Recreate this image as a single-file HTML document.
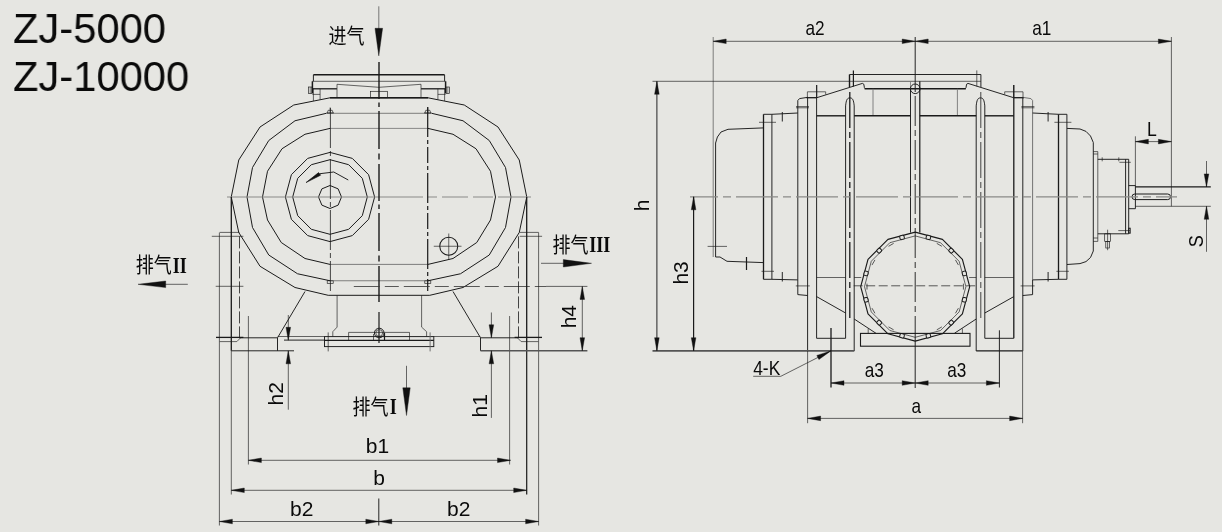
<!DOCTYPE html>
<html lang="zh">
<head>
<meta charset="utf-8">
<title>ZJ-5000 / ZJ-10000</title>
<style>
html,body{margin:0;padding:0;background:#e6e6e2;}
body{width:1222px;height:532px;overflow:hidden;position:relative;font-family:"Liberation Sans","Noto Sans CJK SC",sans-serif;}
.title{position:absolute;left:12.7px;top:4.0px;font-size:42.6px;line-height:48.1px;transform:scaleX(0.979);transform-origin:0 0;color:#0a0a0a;white-space:pre;will-change:transform;}
svg{position:absolute;left:0;top:0;}
</style>
</head>
<body>
<div class="title">ZJ-5000
ZJ-10000</div>
<svg width="1222" height="532" viewBox="0 0 1222 532" stroke-linecap="butt">
<g id="left-view">
<polygon points="330,97.8 293.75,105 260,127 238.75,160 231.25,197 238.75,232.5 260,266.25 295,287.5 328.2,295.3 429.8,295.3 463.0,287.5 498.0,266.25 519.25,232.5 526.75,197 519.25,160 498.0,127 464.25,105 428.0,97.8" fill="none" stroke="#1a1a1a" stroke-width="1.0" stroke-linejoin="round"/>
<polyline points="326.3,113.3 295,120.75 268.75,140.5 252.5,167.5 247,197 252.5,227.5 268.75,255 297.5,273.75 330,280.75" fill="none" stroke="#1a1a1a" stroke-width="1.0" stroke-linejoin="round"/>
<polyline points="431.7,113.3 463.0,120.75 489.25,140.5 505.5,167.5 511.0,197 505.5,227.5 489.25,255 460.5,273.75 428.0,280.75" fill="none" stroke="#1a1a1a" stroke-width="1.0" stroke-linejoin="round"/>
<polyline points="330,128.4 305,134.25 282,148.75 267.5,171.25 262.5,197 267.5,220 281.25,242.5 305,258.5 330,264.4" fill="none" stroke="#1a1a1a" stroke-width="1.0" stroke-linejoin="round"/>
<polyline points="428.0,128.4 453.0,134.25 476.0,148.75 490.5,171.25 495.5,197 490.5,220 476.75,242.5 453.0,258.5 428.0,264.4" fill="none" stroke="#1a1a1a" stroke-width="1.0" stroke-linejoin="round"/>
<polygon points="330.0,152.4 352.3,158.38 368.62,174.7 374.6,197.0 368.62,219.3 352.3,235.62 330.0,241.6 307.7,235.62 291.38,219.3 285.4,197.0 291.38,174.7 307.7,158.38" fill="none" stroke="#1a1a1a" stroke-width="1.0" stroke-linejoin="round"/>
<polygon points="330.0,159.7 348.65,164.7 362.3,178.35 367.3,197.0 362.3,215.65 348.65,229.3 330.0,234.3 311.35,229.3 297.7,215.65 292.7,197.0 297.7,178.35 311.35,164.7" fill="none" stroke="#1a1a1a" stroke-width="1.0" stroke-linejoin="round"/>
<polygon points="330.0,185.5 338.13,188.87 341.5,197.0 338.13,205.13 330.0,208.5 321.87,205.13 318.5,197.0 321.87,188.87" fill="none" stroke="#1a1a1a" stroke-width="1.0" stroke-linejoin="round"/>
<polyline points="348.25,180 333.75,172 319.5,173.75" fill="none" stroke="#1a1a1a" stroke-width="0.95" stroke-linejoin="round"/>
<polygon points="306,182.6 318.6,172.6 320.6,175.2" fill="#111" stroke="#111" stroke-width="0.6"/>
<circle cx="448.75" cy="246.25" r="9" fill="none" stroke="#1a1a1a" stroke-width="1.05"/>
<line x1="433.75" y1="246.25" x2="461.5" y2="246.25" stroke="#1a1a1a" stroke-width="0.65"/>
<line x1="448.75" y1="233.5" x2="448.75" y2="260" stroke="#1a1a1a" stroke-width="0.65"/>
<line x1="326.7" y1="113" x2="333.7" y2="113" stroke="#1a1a1a" stroke-width="0.95"/>
<polyline points="327.2,113 328.2,110.3 332.2,110.3 333.2,113" fill="none" stroke="#1a1a1a" stroke-width="0.65" stroke-linejoin="round"/>
<line x1="330.2" y1="107.4" x2="330.2" y2="113" stroke="#1a1a1a" stroke-width="0.65"/>
<line x1="424.3" y1="113" x2="431.3" y2="113" stroke="#1a1a1a" stroke-width="0.95"/>
<polyline points="424.8,113 425.8,110.3 429.8,110.3 430.8,113" fill="none" stroke="#1a1a1a" stroke-width="0.65" stroke-linejoin="round"/>
<line x1="427.8" y1="107.4" x2="427.8" y2="113" stroke="#1a1a1a" stroke-width="0.65"/>
<rect x="327.2" y="280.8" width="6.0" height="2.5" fill="none" stroke="#1a1a1a" stroke-width="0.65"/>
<rect x="424.8" y="280.8" width="6.0" height="2.5" fill="none" stroke="#1a1a1a" stroke-width="0.65"/>
<line x1="313.4" y1="74.8" x2="444.6" y2="74.8" stroke="#1a1a1a" stroke-width="1.5"/>
<line x1="313.4" y1="74.8" x2="313.4" y2="81.3" stroke="#1a1a1a" stroke-width="0.95"/>
<line x1="444.6" y1="74.8" x2="444.6" y2="81.3" stroke="#1a1a1a" stroke-width="0.95"/>
<line x1="312.4" y1="81.3" x2="445.6" y2="81.3" stroke="#1a1a1a" stroke-width="0.65"/>
<line x1="312.4" y1="81.3" x2="312.4" y2="93.4" stroke="#1a1a1a" stroke-width="1.5"/>
<line x1="445.6" y1="81.3" x2="445.6" y2="93.4" stroke="#1a1a1a" stroke-width="1.5"/>
<rect x="308.5" y="87" width="3.4" height="6.4" fill="none" stroke="#1a1a1a" stroke-width="0.65"/>
<rect x="446.1" y="87" width="3.4" height="6.4" fill="none" stroke="#1a1a1a" stroke-width="0.65"/>
<line x1="310.2" y1="87" x2="310.2" y2="93.4" stroke="#1a1a1a" stroke-width="0.5"/>
<line x1="447.8" y1="87" x2="447.8" y2="93.4" stroke="#1a1a1a" stroke-width="0.5"/>
<line x1="312.4" y1="88.8" x2="336.9" y2="88.8" stroke="#1a1a1a" stroke-width="1.3"/>
<line x1="421.1" y1="88.8" x2="445.6" y2="88.8" stroke="#1a1a1a" stroke-width="1.3"/>
<line x1="313.4" y1="88.8" x2="313.4" y2="101" stroke="#1a1a1a" stroke-width="0.65"/>
<line x1="320.1" y1="88.8" x2="320.1" y2="99.6" stroke="#1a1a1a" stroke-width="0.65"/>
<line x1="312.4" y1="94.4" x2="320.1" y2="94.4" stroke="#1a1a1a" stroke-width="0.65"/>
<line x1="444.6" y1="88.8" x2="444.6" y2="101" stroke="#1a1a1a" stroke-width="0.65"/>
<line x1="437.9" y1="88.8" x2="437.9" y2="99.6" stroke="#1a1a1a" stroke-width="0.65"/>
<line x1="437.9" y1="94.4" x2="445.6" y2="94.4" stroke="#1a1a1a" stroke-width="0.65"/>
<polyline points="337,97.8 337,84.3 379,87.3 421,84.3 421,97.8" fill="none" stroke="#1a1a1a" stroke-width="0.65" stroke-linejoin="round"/>
<rect x="370.6" y="91.3" width="16.8" height="6.5" fill="none" stroke="#1a1a1a" stroke-width="0.65"/>
<line x1="330" y1="97.8" x2="428" y2="97.8" stroke="#1a1a1a" stroke-width="1.4"/>
<line x1="326.3" y1="113.3" x2="431.7" y2="113.3" stroke="#444" stroke-width="0.65"/>
<line x1="330" y1="128.4" x2="428" y2="128.4" stroke="#555" stroke-width="0.65"/>
<line x1="330" y1="264.4" x2="428" y2="264.4" stroke="#444" stroke-width="0.65"/>
<line x1="330" y1="280.75" x2="428" y2="280.75" stroke="#444" stroke-width="0.65"/>
<line x1="227" y1="197" x2="531" y2="197" stroke="#8a8a88" stroke-width="1.2" stroke-dasharray="196 5 9 5 26 5 20 5 100"/>
<line x1="330.4" y1="108" x2="330.4" y2="291" stroke="#1a1a1a" stroke-width="0.8" stroke-dasharray="40 3 5 3"/>
<line x1="379" y1="62" x2="379" y2="302" stroke="#1a1a1a" stroke-width="1.4" stroke-dasharray="37 3.5 4.5 4 38 4.5 6 4.5"/>
<line x1="379" y1="312" x2="379" y2="343" stroke="#1a1a1a" stroke-width="1.2"/>
<line x1="427.7" y1="107" x2="427.7" y2="291" stroke="#1a1a1a" stroke-width="1.2" stroke-dasharray="30 3 4 3 16 3 4 3"/>
<line x1="353.8" y1="286.5" x2="546" y2="286.5" stroke="#333" stroke-width="0.8" stroke-dasharray="26 5 14 5"/>
<line x1="215.7" y1="286.3" x2="243.4" y2="286.3" stroke="#1a1a1a" stroke-width="0.65"/>
<line x1="219.7" y1="232.4" x2="239.5" y2="232.4" stroke="#1a1a1a" stroke-width="0.65"/>
<line x1="211.8" y1="236.3" x2="243.4" y2="236.3" stroke="#1a1a1a" stroke-width="0.65"/>
<line x1="219.4" y1="232.6" x2="219.4" y2="525.5" stroke="#1a1a1a" stroke-width="0.65"/>
<line x1="231.3" y1="197" x2="231.3" y2="350.8" stroke="#1a1a1a" stroke-width="1.3"/>
<line x1="231.3" y1="350.8" x2="231.3" y2="494.5" stroke="#1a1a1a" stroke-width="0.65"/>
<line x1="239.5" y1="236.4" x2="239.5" y2="337" stroke="#1a1a1a" stroke-width="0.8" stroke-dasharray="12 3"/>
<line x1="216.0" y1="337.4" x2="243.4" y2="337.4" stroke="#1a1a1a" stroke-width="1.3"/>
<polyline points="219.7,341.6 236.8,341.6 240.8,337.6" fill="none" stroke="#1a1a1a" stroke-width="0.65" stroke-linejoin="round"/>
<line x1="239.5" y1="337.8" x2="277.5" y2="337.8" stroke="#1a1a1a" stroke-width="0.95"/>
<line x1="277.5" y1="337.8" x2="277.5" y2="350.8" stroke="#1a1a1a" stroke-width="0.95"/>
<line x1="248.4" y1="316" x2="248.4" y2="464.5" stroke="#1a1a1a" stroke-width="0.65"/>
<line x1="305.0" y1="291.5" x2="277.5" y2="337.8" stroke="#1a1a1a" stroke-width="0.95"/>
<line x1="284" y1="340.1" x2="325" y2="340.1" stroke="#1a1a1a" stroke-width="0.95"/>
<line x1="277.8" y1="336.5" x2="324.5" y2="336.5" stroke="#1a1a1a" stroke-width="0.65"/>
<line x1="519.7" y1="232.4" x2="538.7" y2="232.4" stroke="#1a1a1a" stroke-width="0.65"/>
<line x1="519.7" y1="236.3" x2="542.1" y2="236.3" stroke="#1a1a1a" stroke-width="0.65"/>
<line x1="538.6" y1="232.6" x2="538.6" y2="525.5" stroke="#1a1a1a" stroke-width="0.65"/>
<line x1="526.7" y1="197" x2="526.7" y2="350.8" stroke="#1a1a1a" stroke-width="1.3"/>
<line x1="526.7" y1="350.8" x2="526.7" y2="494.5" stroke="#1a1a1a" stroke-width="1.2"/>
<line x1="518.5" y1="236.4" x2="518.5" y2="337" stroke="#1a1a1a" stroke-width="0.8" stroke-dasharray="12 3"/>
<line x1="542.0" y1="337.4" x2="514.6" y2="337.4" stroke="#1a1a1a" stroke-width="1.3"/>
<polyline points="538.3,341.6 521.2,341.6 517.2,337.6" fill="none" stroke="#1a1a1a" stroke-width="0.65" stroke-linejoin="round"/>
<line x1="518.5" y1="337.8" x2="480.5" y2="337.8" stroke="#1a1a1a" stroke-width="0.95"/>
<line x1="480.5" y1="337.8" x2="480.5" y2="350.8" stroke="#1a1a1a" stroke-width="0.95"/>
<line x1="509.6" y1="316" x2="509.6" y2="464.5" stroke="#1a1a1a" stroke-width="0.65"/>
<line x1="453.0" y1="291.5" x2="480.5" y2="337.8" stroke="#1a1a1a" stroke-width="0.95"/>
<line x1="480.2" y1="336.5" x2="433.5" y2="336.5" stroke="#1a1a1a" stroke-width="0.65"/>
<line x1="231.3" y1="350.8" x2="294" y2="350.8" stroke="#1a1a1a" stroke-width="0.95"/>
<line x1="480.5" y1="350.8" x2="587.4" y2="350.8" stroke="#555" stroke-width="1.5"/>
<polyline points="337.1,295.3 337.1,327.1 332.8,331.7 332.8,336.6" fill="none" stroke="#1a1a1a" stroke-width="0.65" stroke-linejoin="round"/>
<polyline points="421.6,295.3 421.6,327.1 426.6,331.7 426.6,336.6" fill="none" stroke="#1a1a1a" stroke-width="0.65" stroke-linejoin="round"/>
<rect x="324.5" y="336.6" width="109.3" height="10.0" fill="none" stroke="#1a1a1a" stroke-width="0.95"/>
<line x1="324.5" y1="340.3" x2="433.8" y2="340.3" stroke="#1a1a1a" stroke-width="1.2"/>
<polyline points="348.6,340.3 348.6,332.4 409.5,332.4 409.5,340.3" fill="none" stroke="#1a1a1a" stroke-width="0.65" stroke-linejoin="round"/>
<circle cx="379.2" cy="333" r="4.8" fill="none" stroke="#1a1a1a" stroke-width="0.95"/>
<circle cx="379.2" cy="333" r="3.4" fill="none" stroke="#1a1a1a" stroke-width="0.65"/>
<polyline points="373.5,334 373.5,340.3" fill="none" stroke="#1a1a1a" stroke-width="0.65" stroke-linejoin="round"/>
<line x1="384.5" y1="333" x2="384.5" y2="340.3" stroke="#1a1a1a" stroke-width="1.2"/>
<line x1="328.2" y1="332.4" x2="328.2" y2="351.4" stroke="#1a1a1a" stroke-width="0.65"/>
<line x1="430.1" y1="332.4" x2="430.1" y2="351.4" stroke="#666" stroke-width="0.9"/>
<line x1="288.3" y1="315" x2="288.3" y2="340" stroke="#1a1a1a" stroke-width="0.65"/>
<polygon points="288.3,340.3 286.0,327.3 290.6,327.3" fill="#111" stroke="#111" stroke-width="0.4"/>
<line x1="288.3" y1="350.8" x2="288.3" y2="409.7" stroke="#1a1a1a" stroke-width="0.65"/>
<polygon points="288.3,350.8 290.6,363.8 286.0,363.8" fill="#111" stroke="#111" stroke-width="0.4"/>
<line x1="491.4" y1="312.5" x2="491.4" y2="337.5" stroke="#1a1a1a" stroke-width="0.65"/>
<polygon points="491.4,337.8 489.1,324.8 493.7,324.8" fill="#111" stroke="#111" stroke-width="0.4"/>
<line x1="491.4" y1="350.8" x2="491.4" y2="417.9" stroke="#1a1a1a" stroke-width="0.65"/>
<polygon points="491.4,350.8 493.7,363.8 489.1,363.8" fill="#111" stroke="#111" stroke-width="0.4"/>
<text transform="translate(283.3,393.75) rotate(-90)" font-family='"Liberation Sans", sans-serif' font-size="21" text-anchor="middle" fill="#0a0a0a">h2</text>
<text transform="translate(487,405.8) rotate(-90)" font-family='"Liberation Sans", sans-serif' font-size="21" text-anchor="middle" fill="#0a0a0a">h1</text>
<line x1="546" y1="286.4" x2="587.4" y2="286.4" stroke="#1a1a1a" stroke-width="0.65"/>
<line x1="582.3" y1="286.4" x2="582.3" y2="350.7" stroke="#1a1a1a" stroke-width="0.65"/>
<polygon points="582.3,286.4 584.6,299.4 580.0,299.4" fill="#111" stroke="#111" stroke-width="0.4"/>
<polygon points="582.3,350.7 580.0,337.7 584.6,337.7" fill="#111" stroke="#111" stroke-width="0.4"/>
<text transform="translate(575.9,316.7) rotate(-90)" font-family='"Liberation Sans", sans-serif' font-size="21" text-anchor="middle" fill="#0a0a0a">h4</text>
<line x1="248.4" y1="460.3" x2="510.5" y2="460.3" stroke="#1a1a1a" stroke-width="0.65"/>
<polygon points="248.4,460.3 261.4,458.0 261.4,462.6" fill="#111" stroke="#111" stroke-width="0.4"/>
<polygon points="510.5,460.3 497.5,462.6 497.5,458.0" fill="#111" stroke="#111" stroke-width="0.4"/>
<line x1="231.3" y1="490.3" x2="526.7" y2="490.3" stroke="#1a1a1a" stroke-width="0.65"/>
<polygon points="231.3,490.3 244.3,488.0 244.3,492.6" fill="#111" stroke="#111" stroke-width="0.4"/>
<polygon points="526.7,490.3 513.7,492.6 513.7,488.0" fill="#111" stroke="#111" stroke-width="0.4"/>
<line x1="219.4" y1="521.5" x2="538.6" y2="521.5" stroke="#1a1a1a" stroke-width="0.65"/>
<polygon points="219.4,521.5 232.4,519.2 232.4,523.8" fill="#111" stroke="#111" stroke-width="0.4"/>
<polygon points="538.6,521.5 525.6,523.8 525.6,519.2" fill="#111" stroke="#111" stroke-width="0.4"/>
<polygon points="378.8,521.5 365.8,523.8 365.8,519.2" fill="#111" stroke="#111" stroke-width="0.4"/>
<polygon points="378.8,521.5 391.8,519.2 391.8,523.8" fill="#111" stroke="#111" stroke-width="0.4"/>
<line x1="378.8" y1="498.5" x2="378.8" y2="525.5" stroke="#1a1a1a" stroke-width="0.95"/>
<text transform="translate(377.5,453.2)" font-family='"Liberation Sans", sans-serif' font-size="21" text-anchor="middle" fill="#0a0a0a">b1</text>
<text transform="translate(379.2,484.5)" font-family='"Liberation Sans", sans-serif' font-size="21" text-anchor="middle" fill="#0a0a0a">b</text>
<text transform="translate(301.75,516.3)" font-family='"Liberation Sans", sans-serif' font-size="21" text-anchor="middle" fill="#0a0a0a">b2</text>
<text transform="translate(458.75,516.3)" font-family='"Liberation Sans", sans-serif' font-size="21" text-anchor="middle" fill="#0a0a0a">b2</text>
<line x1="378.8" y1="6.3" x2="378.8" y2="30" stroke="#777" stroke-width="1.0"/>
<polygon points="378.8,55.9 375.0,28.3 382.6,28.3" fill="#111" stroke="#111" stroke-width="0.4"/>
<text transform="translate(328.6,42.7) scale(1,1.16)" font-family='"Liberation Sans", "Noto Sans CJK SC", sans-serif' font-size="18.0" fill="#0a0a0a">进气</text>
<line x1="406.5" y1="365.8" x2="406.5" y2="392" stroke="#555" stroke-width="0.9"/>
<polygon points="406.5,415.5 402.8,387.8 410.2,387.8" fill="#111" stroke="#111" stroke-width="0.4"/>
<text transform="translate(352.6,414.2) scale(1,1.16)" font-family='"Liberation Sans", "Noto Sans CJK SC", sans-serif' font-size="18.0" fill="#0a0a0a">排气</text>
<text transform="translate(389.8,413.5) scale(0.79,1)" font-family='"Liberation Serif", serif' font-weight="bold" font-size="22.9" fill="#0a0a0a">I</text>
<line x1="160" y1="284.3" x2="187.8" y2="284.3" stroke="#555" stroke-width="0.9"/>
<polygon points="138,284.3 165.7,281.0 165.7,287.6" fill="#111" stroke="#111" stroke-width="0.4"/>
<text transform="translate(135.7,272.4) scale(1,1.16)" font-family='"Liberation Sans", "Noto Sans CJK SC", sans-serif' font-size="18.0" fill="#0a0a0a">排气</text>
<text transform="translate(172.8,272.5) scale(0.79,1)" font-family='"Liberation Serif", serif' font-weight="bold" font-size="22.9" fill="#0a0a0a">II</text>
<line x1="541" y1="263.3" x2="565" y2="263.3" stroke="#555" stroke-width="0.9"/>
<polygon points="591.5,263.3 563.3,267.0 563.3,259.6" fill="#111" stroke="#111" stroke-width="0.4"/>
<text transform="translate(552.6,252.3) scale(1,1.16)" font-family='"Liberation Sans", "Noto Sans CJK SC", sans-serif' font-size="18.0" fill="#0a0a0a">排气</text>
<text transform="translate(589.2,252.1) scale(0.79,1)" font-family='"Liberation Serif", serif' font-weight="bold" font-size="22.9" fill="#0a0a0a">III</text>
</g>
<g id="right-view">
<line x1="849.5" y1="74.5" x2="980.9" y2="74.5" stroke="#1a1a1a" stroke-width="0.95"/>
<line x1="849.5" y1="74.5" x2="849.5" y2="87" stroke="#1a1a1a" stroke-width="1.4"/>
<line x1="853.4" y1="70.4" x2="853.4" y2="86.4" stroke="#1a1a1a" stroke-width="1.2"/>
<line x1="980.9" y1="74.5" x2="980.9" y2="87" stroke="#1a1a1a" stroke-width="0.95"/>
<line x1="976.8" y1="70.4" x2="976.8" y2="86.4" stroke="#1a1a1a" stroke-width="0.65"/>
<line x1="849.5" y1="81.3" x2="980.9" y2="81.3" stroke="#1a1a1a" stroke-width="0.65"/>
<polyline points="816.8,97.7 862.4,83.4 863.8,84.2 864.4,87.6 865.4,88.8" fill="none" stroke="#1a1a1a" stroke-width="0.95" stroke-linejoin="round"/>
<polyline points="1013.6,97.7 968.0,83.4 966.6,84.2 966.0,87.6 965.0,88.8" fill="none" stroke="#1a1a1a" stroke-width="0.95" stroke-linejoin="round"/>
<line x1="806.4" y1="97.7" x2="816.8" y2="97.7" stroke="#1a1a1a" stroke-width="1.3"/>
<line x1="1024.0" y1="97.7" x2="1013.6" y2="97.7" stroke="#1a1a1a" stroke-width="1.3"/>
<line x1="864.6" y1="88.8" x2="965.8" y2="88.8" stroke="#1a1a1a" stroke-width="1.4"/>
<line x1="873" y1="88.8" x2="873" y2="115.6" stroke="#777" stroke-width="0.9"/>
<line x1="957.4" y1="88.8" x2="957.4" y2="115.6" stroke="#777" stroke-width="0.9"/>
<line x1="816.6" y1="115.8" x2="845.6" y2="115.8" stroke="#1a1a1a" stroke-width="1.4"/>
<line x1="854.2" y1="115.8" x2="910.5" y2="115.8" stroke="#1a1a1a" stroke-width="1.4"/>
<line x1="919.8" y1="115.8" x2="976.2" y2="115.8" stroke="#1a1a1a" stroke-width="1.4"/>
<line x1="984.8" y1="115.8" x2="1013.8" y2="115.8" stroke="#1a1a1a" stroke-width="1.4"/>
<polyline points="807.4,97.5 807.4,91.8 825.7,91.8 825.7,94.5" fill="none" stroke="#1a1a1a" stroke-width="0.65" stroke-linejoin="round"/>
<polyline points="1023.0,97.5 1023.0,91.8 1004.7,91.8 1004.7,94.5" fill="none" stroke="#1a1a1a" stroke-width="0.65" stroke-linejoin="round"/>
<line x1="816.8" y1="85" x2="816.8" y2="97" stroke="#1a1a1a" stroke-width="0.65"/>
<line x1="1013.6" y1="85" x2="1013.6" y2="97" stroke="#1a1a1a" stroke-width="0.65"/>
<polyline points="797.8,279.9 797.8,100.5 799.5,98.6 807.8,97.3" fill="none" stroke="#1a1a1a" stroke-width="0.95" stroke-linejoin="round"/>
<polyline points="1032.6,279.9 1032.6,100.5 1030.9,98.6 1022.6,97.3" fill="none" stroke="#555" stroke-width="0.8" stroke-linejoin="round"/>
<line x1="807.6" y1="97.3" x2="807.6" y2="351" stroke="#1a1a1a" stroke-width="0.95"/>
<line x1="1022.8" y1="97.3" x2="1022.8" y2="351" stroke="#1a1a1a" stroke-width="0.95"/>
<line x1="816.6" y1="85" x2="816.6" y2="338.3" stroke="#1a1a1a" stroke-width="0.95"/>
<line x1="1013.8" y1="85" x2="1013.8" y2="338.3" stroke="#1a1a1a" stroke-width="1.3"/>
<line x1="796" y1="106.6" x2="809" y2="106.6" stroke="#1a1a1a" stroke-width="0.65"/>
<line x1="1034.4" y1="106.6" x2="1021.4" y2="106.6" stroke="#1a1a1a" stroke-width="0.65"/>
<line x1="796" y1="107.8" x2="809" y2="107.8" stroke="#1a1a1a" stroke-width="0.65"/>
<line x1="1034.4" y1="107.8" x2="1021.4" y2="107.8" stroke="#1a1a1a" stroke-width="0.65"/>
<polyline points="763.5,114.3 771.9,114.3 797.8,113" fill="none" stroke="#1a1a1a" stroke-width="0.95" stroke-linejoin="round"/>
<polyline points="1066.9,114.3 1058.5,114.3 1032.6,113" fill="none" stroke="#1a1a1a" stroke-width="0.95" stroke-linejoin="round"/>
<line x1="782.3" y1="112" x2="782.3" y2="121.5" stroke="#1a1a1a" stroke-width="0.95"/>
<line x1="1048.1" y1="112" x2="1048.1" y2="121.5" stroke="#1a1a1a" stroke-width="0.95"/>
<line x1="763.5" y1="114.3" x2="763.5" y2="279.3" stroke="#1a1a1a" stroke-width="1.3"/>
<line x1="771.9" y1="114.3" x2="771.9" y2="279.3" stroke="#1a1a1a" stroke-width="0.95"/>
<line x1="1058.5" y1="114.3" x2="1058.5" y2="279.3" stroke="#1a1a1a" stroke-width="1.3"/>
<line x1="1066.9" y1="114.3" x2="1066.9" y2="279.3" stroke="#1a1a1a" stroke-width="0.95"/>
<line x1="759" y1="122.3" x2="776" y2="122.3" stroke="#1a1a1a" stroke-width="0.65"/>
<line x1="1071.4" y1="122.3" x2="1054.4" y2="122.3" stroke="#1a1a1a" stroke-width="0.65"/>
<line x1="761.5" y1="271.3" x2="774" y2="271.3" stroke="#1a1a1a" stroke-width="0.65"/>
<line x1="1068.9" y1="271.3" x2="1056.4" y2="271.3" stroke="#1a1a1a" stroke-width="0.65"/>
<polyline points="763.5,279.3 771.9,279.3 797.8,279.9" fill="none" stroke="#1a1a1a" stroke-width="0.95" stroke-linejoin="round"/>
<polyline points="1066.9,279.3 1058.5,279.3 1032.6,279.9" fill="none" stroke="#1a1a1a" stroke-width="0.95" stroke-linejoin="round"/>
<line x1="782.3" y1="272" x2="782.3" y2="281.5" stroke="#1a1a1a" stroke-width="0.95"/>
<line x1="1048.1" y1="272" x2="1048.1" y2="281.5" stroke="#1a1a1a" stroke-width="0.95"/>
<polyline points="797.8,279.9 797.8,294.6 807.6,295.5" fill="none" stroke="#1a1a1a" stroke-width="0.95" stroke-linejoin="round"/>
<polyline points="1032.6,279.9 1032.6,294.6 1022.8,295.5" fill="none" stroke="#1a1a1a" stroke-width="0.95" stroke-linejoin="round"/>
<line x1="795.8" y1="285.9" x2="809.8" y2="285.9" stroke="#1a1a1a" stroke-width="0.65"/>
<line x1="1034.6" y1="285.9" x2="1020.6" y2="285.9" stroke="#1a1a1a" stroke-width="0.65"/>
<polyline points="763.5,127.9 728,129.3 721,132 717.4,137 715.6,143 715.6,257 720,257 727,261.3 763.5,262.6" fill="none" stroke="#1a1a1a" stroke-width="0.95" stroke-linejoin="round"/>
<line x1="713.2" y1="37" x2="713.2" y2="257" stroke="#444" stroke-width="0.65"/>
<line x1="707.6" y1="246.4" x2="727" y2="246.4" stroke="#1a1a1a" stroke-width="0.65"/>
<line x1="746.5" y1="257" x2="746.5" y2="270" stroke="#1a1a1a" stroke-width="1.2"/>
<polyline points="1067,128.4 1080,129 1086,131.4 1090.5,136 1093.3,142.5 1093.3,251 1090.5,257.5 1086,261.6 1080,263.6 1067,264.5" fill="none" stroke="#1a1a1a" stroke-width="0.95" stroke-linejoin="round"/>
<polyline points="1093.3,151.6 1097.8,151.6 1097.8,241.4 1093.3,241.4" fill="none" stroke="#1a1a1a" stroke-width="0.65" stroke-linejoin="round"/>
<line x1="1093.3" y1="154" x2="1097.8" y2="154" stroke="#1a1a1a" stroke-width="0.65"/>
<line x1="1093.3" y1="238" x2="1097.8" y2="238" stroke="#1a1a1a" stroke-width="0.65"/>
<polyline points="1097.8,159.3 1128.7,159.3 1128.7,233.8 1097.8,233.8" fill="none" stroke="#1a1a1a" stroke-width="0.95" stroke-linejoin="round"/>
<line x1="1125.6" y1="159.3" x2="1125.6" y2="233.8" stroke="#1a1a1a" stroke-width="0.95"/>
<line x1="1102.2" y1="157.3" x2="1102.2" y2="161.3" stroke="#1a1a1a" stroke-width="0.65"/>
<line x1="1118.8" y1="157.3" x2="1118.8" y2="161.3" stroke="#1a1a1a" stroke-width="0.65"/>
<line x1="1119.4" y1="162.3" x2="1130.8" y2="162.3" stroke="#1a1a1a" stroke-width="0.65"/>
<line x1="1118.3" y1="230.6" x2="1130" y2="230.6" stroke="#1a1a1a" stroke-width="0.65"/>
<rect x="1128.7" y="228.2" width="1.5" height="5.0" fill="none" stroke="#1a1a1a" stroke-width="0.95"/>
<rect x="1104.7" y="233.8" width="5.7" height="7.6" fill="none" stroke="#1a1a1a" stroke-width="0.65"/>
<rect x="1105.8" y="241.4" width="3.6" height="6.6" fill="none" stroke="#1a1a1a" stroke-width="0.65"/>
<line x1="1107.6" y1="229.7" x2="1107.6" y2="250.2" stroke="#1a1a1a" stroke-width="0.65"/>
<polyline points="1128.7,185.6 1135.4,185.6 1135.4,208.7 1128.7,208.7" fill="none" stroke="#1a1a1a" stroke-width="0.95" stroke-linejoin="round"/>
<line x1="1135.4" y1="186.9" x2="1210.8" y2="186.9" stroke="#1a1a1a" stroke-width="1.4"/>
<line x1="1135.4" y1="206.3" x2="1210.8" y2="206.3" stroke="#1a1a1a" stroke-width="0.65"/>
<line x1="1171.4" y1="37" x2="1171.4" y2="206.3" stroke="#1a1a1a" stroke-width="0.65"/>
<rect x="1132" y="194" width="38.5" height="5.6" rx="2.8" fill="none" stroke="#1a1a1a" stroke-width="1"/>
<path d="M845.6,338.3 L845.6,105.9 C846.2,99.9 847.2,97.9 849.9000000000001,97.9 C852.6,97.9 853.6,99.9 854.2,105.9 L854.2,351" fill="none" stroke="#1a1a1a" stroke-width="0.95"/>
<path d="M976.2,351 L976.2,105.9 C976.8000000000001,99.9 977.8000000000001,97.9 980.5,97.9 C983.1999999999999,97.9 984.1999999999999,99.9 984.8,105.9 L984.8,338.3" fill="none" stroke="#1a1a1a" stroke-width="0.95"/>
<line x1="849.8" y1="92" x2="849.8" y2="318" stroke="#1a1a1a" stroke-width="1.3" stroke-dasharray="36 4 6 4"/>
<line x1="980.8" y1="92" x2="980.8" y2="318" stroke="#1a1a1a" stroke-width="0.8" stroke-dasharray="36 4 6 4"/>
<line x1="910.5" y1="88.8" x2="910.5" y2="232.6" stroke="#1a1a1a" stroke-width="0.95"/>
<line x1="919.8" y1="81.3" x2="919.8" y2="232.6" stroke="#1a1a1a" stroke-width="1.2"/>
<line x1="910.5" y1="81.3" x2="910.5" y2="88.8" stroke="#777" stroke-width="0.8"/>
<circle cx="915.2" cy="88.8" r="4.8" fill="none" stroke="#1a1a1a" stroke-width="0.95"/>
<line x1="915.2" y1="37" x2="915.2" y2="92" stroke="#1a1a1a" stroke-width="0.95"/>
<line x1="915.2" y1="96" x2="915.2" y2="333" stroke="#1a1a1a" stroke-width="0.9" stroke-dasharray="30 4 6 4"/>
<line x1="915.2" y1="333" x2="915.2" y2="388" stroke="#1a1a1a" stroke-width="0.95"/>
<line x1="690" y1="196.8" x2="1177" y2="196.8" stroke="#8a8a88" stroke-width="1.2" stroke-dasharray="42 5 8 5" stroke-dashoffset="14"/>
<polygon points="915.2,232.1 942.45,239.4 962.4,259.35 969.7,286.6 962.4,313.85 942.45,333.8 915.2,341.1 887.95,333.8 868.0,313.85 860.7,286.6 868.0,259.35 887.95,239.4" fill="none" stroke="#1a1a1a" stroke-width="1.15" stroke-linejoin="round"/>
<polygon points="915.2,235.9 940.55,242.69 959.11,261.25 965.9,286.6 959.11,311.95 940.55,330.51 915.2,337.3 889.85,330.51 871.29,311.95 864.5,286.6 871.29,261.25 889.85,242.69" fill="none" stroke="#1a1a1a" stroke-width="0.65" stroke-linejoin="round"/>
<line x1="936.75" y1="243.37" x2="941.86" y2="246.32" stroke="#1a1a1a" stroke-width="0.7"/>
<line x1="955.48" y1="259.94" x2="958.43" y2="265.05" stroke="#1a1a1a" stroke-width="0.7"/>
<line x1="963.41" y1="283.65" x2="963.41" y2="289.55" stroke="#1a1a1a" stroke-width="0.7"/>
<line x1="958.43" y1="308.15" x2="955.48" y2="313.26" stroke="#1a1a1a" stroke-width="0.7"/>
<line x1="941.86" y1="326.88" x2="936.75" y2="329.83" stroke="#1a1a1a" stroke-width="0.7"/>
<line x1="893.65" y1="329.83" x2="888.54" y2="326.88" stroke="#1a1a1a" stroke-width="0.7"/>
<line x1="874.92" y1="313.26" x2="871.97" y2="308.15" stroke="#1a1a1a" stroke-width="0.7"/>
<line x1="866.99" y1="289.55" x2="866.99" y2="283.65" stroke="#1a1a1a" stroke-width="0.7"/>
<line x1="871.97" y1="265.05" x2="874.92" y2="259.94" stroke="#1a1a1a" stroke-width="0.7"/>
<line x1="888.54" y1="246.32" x2="893.65" y2="243.37" stroke="#1a1a1a" stroke-width="0.7"/>
<rect x="-2.2" y="-2" width="4.4" height="4" rx="1.3" transform="translate(928.37,237.43) rotate(15)" fill="#e6e6e2" stroke="#1a1a1a" stroke-width="1"/>
<rect x="-2.2" y="-2" width="4.4" height="4" rx="1.3" transform="translate(951.19,250.61) rotate(45)" fill="#e6e6e2" stroke="#1a1a1a" stroke-width="1"/>
<rect x="-2.2" y="-2" width="4.4" height="4" rx="1.3" transform="translate(964.37,273.43) rotate(75)" fill="#e6e6e2" stroke="#1a1a1a" stroke-width="1"/>
<rect x="-2.2" y="-2" width="4.4" height="4" rx="1.3" transform="translate(964.37,299.77) rotate(105)" fill="#e6e6e2" stroke="#1a1a1a" stroke-width="1"/>
<rect x="-2.2" y="-2" width="4.4" height="4" rx="1.3" transform="translate(951.19,322.59) rotate(135)" fill="#e6e6e2" stroke="#1a1a1a" stroke-width="1"/>
<rect x="-2.2" y="-2" width="4.4" height="4" rx="1.3" transform="translate(928.37,335.77) rotate(165)" fill="#e6e6e2" stroke="#1a1a1a" stroke-width="1"/>
<rect x="-2.2" y="-2" width="4.4" height="4" rx="1.3" transform="translate(902.03,335.77) rotate(195)" fill="#e6e6e2" stroke="#1a1a1a" stroke-width="1"/>
<rect x="-2.2" y="-2" width="4.4" height="4" rx="1.3" transform="translate(879.21,322.59) rotate(225)" fill="#e6e6e2" stroke="#1a1a1a" stroke-width="1"/>
<rect x="-2.2" y="-2" width="4.4" height="4" rx="1.3" transform="translate(866.03,299.77) rotate(255)" fill="#e6e6e2" stroke="#1a1a1a" stroke-width="1"/>
<rect x="-2.2" y="-2" width="4.4" height="4" rx="1.3" transform="translate(866.03,273.43) rotate(285)" fill="#e6e6e2" stroke="#1a1a1a" stroke-width="1"/>
<rect x="-2.2" y="-2" width="4.4" height="4" rx="1.3" transform="translate(879.21,250.61) rotate(315)" fill="#e6e6e2" stroke="#1a1a1a" stroke-width="1"/>
<rect x="-2.2" y="-2" width="4.4" height="4" rx="1.3" transform="translate(902.03,237.43) rotate(345)" fill="#e6e6e2" stroke="#1a1a1a" stroke-width="1"/>
<line x1="853.7" y1="285.8" x2="977" y2="285.8" stroke="#1a1a1a" stroke-width="0.7" stroke-dasharray="9 3.5"/>
<line x1="816.6" y1="277.5" x2="845.6" y2="277.5" stroke="#1a1a1a" stroke-width="0.65"/>
<line x1="854.2" y1="277.5" x2="861.3" y2="277.5" stroke="#1a1a1a" stroke-width="0.65"/>
<line x1="969.1" y1="277.5" x2="976.2" y2="277.5" stroke="#1a1a1a" stroke-width="0.65"/>
<line x1="984.8" y1="277.5" x2="1013.8" y2="277.5" stroke="#1a1a1a" stroke-width="0.65"/>
<line x1="816.6" y1="296.6" x2="845.6" y2="313" stroke="#1a1a1a" stroke-width="0.95"/>
<line x1="1013.8" y1="296.6" x2="984.8" y2="313" stroke="#1a1a1a" stroke-width="0.95"/>
<line x1="854.2" y1="319" x2="876" y2="333.3" stroke="#1a1a1a" stroke-width="0.95"/>
<line x1="976.2" y1="319" x2="954.4" y2="333.3" stroke="#1a1a1a" stroke-width="0.95"/>
<polyline points="816.6,338.3 845.6,338.3" fill="none" stroke="#1a1a1a" stroke-width="0.95" stroke-linejoin="round"/>
<polyline points="1013.8,338.3 984.8,338.3" fill="none" stroke="#1a1a1a" stroke-width="0.95" stroke-linejoin="round"/>
<rect x="860.5" y="333.4" width="109.5" height="12.8" fill="none" stroke="#1a1a1a" stroke-width="1.1"/>
<line x1="868.2" y1="328.6" x2="868.2" y2="333.5" stroke="#1a1a1a" stroke-width="0.65"/>
<line x1="962.4" y1="328.6" x2="962.4" y2="333.5" stroke="#1a1a1a" stroke-width="0.65"/>
<line x1="652.5" y1="350.9" x2="854.3" y2="350.9" stroke="#555" stroke-width="1.8"/>
<line x1="976.2" y1="350.9" x2="1022.6" y2="350.9" stroke="#1a1a1a" stroke-width="1.2"/>
<line x1="713.2" y1="41.3" x2="1171.4" y2="41.3" stroke="#1a1a1a" stroke-width="0.65"/>
<polygon points="713.2,41.3 726.2,39.0 726.2,43.6" fill="#111" stroke="#111" stroke-width="0.4"/>
<polygon points="915.2,41.3 902.2,43.6 902.2,39.0" fill="#111" stroke="#111" stroke-width="0.4"/>
<polygon points="915.2,41.3 928.2,39.0 928.2,43.6" fill="#111" stroke="#111" stroke-width="0.4"/>
<polygon points="1171.4,41.3 1158.4,43.6 1158.4,39.0" fill="#111" stroke="#111" stroke-width="0.4"/>
<text transform="translate(815,35) scale(0.86,1)" font-family='"Liberation Sans", sans-serif' font-size="20" text-anchor="middle" fill="#0a0a0a">a2</text>
<text transform="translate(1041.75,35) scale(0.86,1)" font-family='"Liberation Sans", sans-serif' font-size="20" text-anchor="middle" fill="#0a0a0a">a1</text>
<line x1="652.5" y1="81.3" x2="849.5" y2="81.3" stroke="#1a1a1a" stroke-width="0.65"/>
<line x1="656.9" y1="81.3" x2="656.9" y2="350.7" stroke="#1a1a1a" stroke-width="0.95"/>
<polygon points="656.9,81.3 659.2,94.3 654.6,94.3" fill="#111" stroke="#111" stroke-width="0.4"/>
<polygon points="656.9,350.7 654.6,337.7 659.2,337.7" fill="#111" stroke="#111" stroke-width="0.4"/>
<text transform="translate(648.6,205.5) rotate(-90)" font-family='"Liberation Sans", sans-serif' font-size="21" text-anchor="middle" fill="#0a0a0a">h</text>
<line x1="693.6" y1="196.8" x2="693.6" y2="350.7" stroke="#1a1a1a" stroke-width="1.2"/>
<polygon points="693.6,196.8 695.9,209.8 691.3,209.8" fill="#111" stroke="#111" stroke-width="0.4"/>
<polygon points="693.6,350.7 691.3,337.7 695.9,337.7" fill="#111" stroke="#111" stroke-width="0.4"/>
<text transform="translate(688.2,272.9) rotate(-90)" font-family='"Liberation Sans", sans-serif' font-size="21" text-anchor="middle" fill="#0a0a0a">h3</text>
<line x1="1135.4" y1="136.3" x2="1135.4" y2="186" stroke="#1a1a1a" stroke-width="0.65"/>
<line x1="1135.4" y1="141.6" x2="1171.4" y2="141.6" stroke="#1a1a1a" stroke-width="0.65"/>
<polygon points="1135.4,141.6 1148.4,139.3 1148.4,143.9" fill="#111" stroke="#111" stroke-width="0.4"/>
<polygon points="1171.4,141.6 1158.4,143.9 1158.4,139.3" fill="#111" stroke="#111" stroke-width="0.4"/>
<text transform="translate(1152,136) scale(0.86,1)" font-family='"Liberation Sans", sans-serif' font-size="20.5" text-anchor="middle" fill="#0a0a0a">L</text>
<line x1="1206.5" y1="161" x2="1206.5" y2="186.9" stroke="#1a1a1a" stroke-width="0.65"/>
<polygon points="1206.5,186.9 1204.2,173.9 1208.8,173.9" fill="#111" stroke="#111" stroke-width="0.4"/>
<line x1="1206.5" y1="206.3" x2="1206.5" y2="251.8" stroke="#1a1a1a" stroke-width="0.65"/>
<polygon points="1206.5,206.3 1208.8,219.3 1204.2,219.3" fill="#111" stroke="#111" stroke-width="0.4"/>
<text transform="translate(1202.8,241.3) rotate(-90) scale(0.86,1)" font-family='"Liberation Sans", sans-serif' font-size="21" text-anchor="middle" fill="#0a0a0a">S</text>
<line x1="831" y1="327.9" x2="831" y2="387.5" stroke="#1a1a1a" stroke-width="1.3"/>
<line x1="999.4" y1="330.3" x2="999.4" y2="387.5" stroke="#1a1a1a" stroke-width="0.95"/>
<line x1="831" y1="383" x2="999.4" y2="383" stroke="#1a1a1a" stroke-width="0.65"/>
<polygon points="831,383 844.0,380.7 844.0,385.3" fill="#111" stroke="#111" stroke-width="0.4"/>
<polygon points="915.2,383 902.2,385.3 902.2,380.7" fill="#111" stroke="#111" stroke-width="0.4"/>
<polygon points="915.2,383 928.2,380.7 928.2,385.3" fill="#111" stroke="#111" stroke-width="0.4"/>
<polygon points="999.4,383 986.4,385.3 986.4,380.7" fill="#111" stroke="#111" stroke-width="0.4"/>
<text transform="translate(874.2,377) scale(0.86,1)" font-family='"Liberation Sans", sans-serif' font-size="20" text-anchor="middle" fill="#0a0a0a">a3</text>
<text transform="translate(956.7,377) scale(0.86,1)" font-family='"Liberation Sans", sans-serif' font-size="20" text-anchor="middle" fill="#0a0a0a">a3</text>
<line x1="807.6" y1="351" x2="807.6" y2="423.2" stroke="#1a1a1a" stroke-width="0.65"/>
<line x1="1022.6" y1="351" x2="1022.6" y2="423.2" stroke="#1a1a1a" stroke-width="0.65"/>
<line x1="807.6" y1="418.4" x2="1022.6" y2="418.4" stroke="#1a1a1a" stroke-width="0.65"/>
<polygon points="807.6,418.4 820.6,416.1 820.6,420.7" fill="#111" stroke="#111" stroke-width="0.4"/>
<polygon points="1022.6,418.4 1009.6,420.7 1009.6,416.1" fill="#111" stroke="#111" stroke-width="0.4"/>
<text transform="translate(916.3,413.3) scale(0.86,1)" font-family='"Liberation Sans", sans-serif' font-size="20" text-anchor="middle" fill="#0a0a0a">a</text>
<line x1="753.2" y1="376.3" x2="780.8" y2="376.3" stroke="#1a1a1a" stroke-width="0.65"/>
<line x1="780.8" y1="376.3" x2="830.8" y2="350.9" stroke="#1a1a1a" stroke-width="0.65"/>
<polygon points="830.8,350.9 818.91,359.52 816.83,355.42" fill="#111" stroke="#111" stroke-width="0.4"/>
<text transform="translate(753.2,374.7) scale(0.84,1)" font-family='"Liberation Sans", sans-serif' font-size="20.7" text-anchor="start" fill="#0a0a0a">4-K</text>
</g>
</svg>
</body>
</html>
